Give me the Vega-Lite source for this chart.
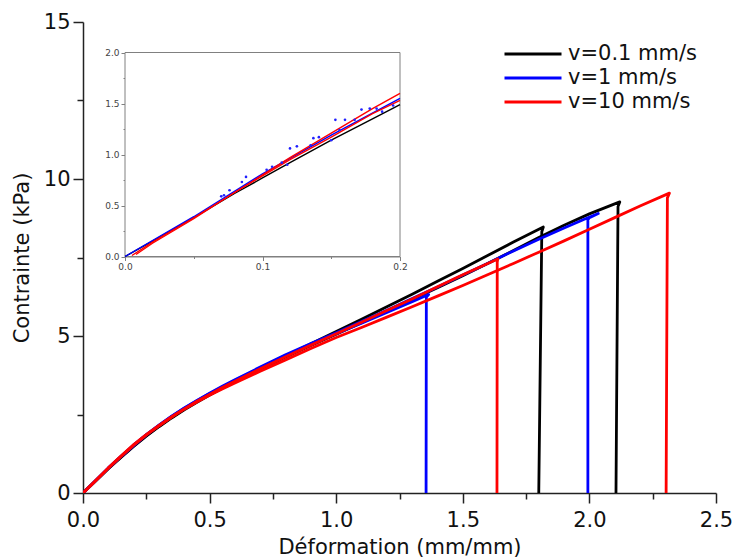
{
  "$schema": "https://vega.github.io/schema/vega-lite/v6.json",
  "width": 633,
  "height": 471,
  "autosize": "none",
  "padding": {"left": 83, "top": 22, "right": 19, "bottom": 67},
  "background": "white",
  "config": {"view": {"stroke": null}, "font": "DejaVu Sans", "axis": {"grid": false}},
  "datasets": {
    "main": [
      {"s":"k1","v":"v=0.1 mm/s","x":0,"y":0},{"s":"k1","v":"v=0.1 mm/s","x":0.05,"y":0.38},{"s":"k1","v":"v=0.1 mm/s","x":0.1,"y":0.77},{"s":"k1","v":"v=0.1 mm/s","x":0.15,"y":1.13},{"s":"k1","v":"v=0.1 mm/s","x":0.2,"y":1.48},{"s":"k1","v":"v=0.1 mm/s","x":0.25,"y":1.81},{"s":"k1","v":"v=0.1 mm/s","x":0.3,"y":2.11},{"s":"k1","v":"v=0.1 mm/s","x":0.35,"y":2.39},{"s":"k1","v":"v=0.1 mm/s","x":0.4,"y":2.65},{"s":"k1","v":"v=0.1 mm/s","x":0.45,"y":2.89},{"s":"k1","v":"v=0.1 mm/s","x":0.5,"y":3.12},{"s":"k1","v":"v=0.1 mm/s","x":0.55,"y":3.34},{"s":"k1","v":"v=0.1 mm/s","x":0.6,"y":3.55},{"s":"k1","v":"v=0.1 mm/s","x":0.7,"y":3.96},{"s":"k1","v":"v=0.1 mm/s","x":0.8,"y":4.36},{"s":"k1","v":"v=0.1 mm/s","x":0.9,"y":4.75},{"s":"k1","v":"v=0.1 mm/s","x":1.0,"y":5.14},{"s":"k1","v":"v=0.1 mm/s","x":1.1,"y":5.53},{"s":"k1","v":"v=0.1 mm/s","x":1.2,"y":5.93},{"s":"k1","v":"v=0.1 mm/s","x":1.3,"y":6.33},{"s":"k1","v":"v=0.1 mm/s","x":1.4,"y":6.74},{"s":"k1","v":"v=0.1 mm/s","x":1.5,"y":7.15},{"s":"k1","v":"v=0.1 mm/s","x":1.6,"y":7.57},{"s":"k1","v":"v=0.1 mm/s","x":1.7,"y":7.99},{"s":"k1","v":"v=0.1 mm/s","x":1.818,"y":8.47},{"s":"k1","v":"v=0.1 mm/s","x":1.812,"y":8.32},{"s":"k1","v":"v=0.1 mm/s","x":1.8,"y":0},
      {"s":"k2","v":"v=0.1 mm/s","x":0,"y":0},{"s":"k2","v":"v=0.1 mm/s","x":0.05,"y":0.39},{"s":"k2","v":"v=0.1 mm/s","x":0.1,"y":0.78},{"s":"k2","v":"v=0.1 mm/s","x":0.15,"y":1.15},{"s":"k2","v":"v=0.1 mm/s","x":0.2,"y":1.5},{"s":"k2","v":"v=0.1 mm/s","x":0.25,"y":1.83},{"s":"k2","v":"v=0.1 mm/s","x":0.3,"y":2.13},{"s":"k2","v":"v=0.1 mm/s","x":0.35,"y":2.41},{"s":"k2","v":"v=0.1 mm/s","x":0.4,"y":2.67},{"s":"k2","v":"v=0.1 mm/s","x":0.45,"y":2.91},{"s":"k2","v":"v=0.1 mm/s","x":0.5,"y":3.13},{"s":"k2","v":"v=0.1 mm/s","x":0.55,"y":3.34},{"s":"k2","v":"v=0.1 mm/s","x":0.6,"y":3.55},{"s":"k2","v":"v=0.1 mm/s","x":0.7,"y":3.95},{"s":"k2","v":"v=0.1 mm/s","x":0.8,"y":4.33},{"s":"k2","v":"v=0.1 mm/s","x":0.9,"y":4.7},{"s":"k2","v":"v=0.1 mm/s","x":1.0,"y":5.06},{"s":"k2","v":"v=0.1 mm/s","x":1.1,"y":5.42},{"s":"k2","v":"v=0.1 mm/s","x":1.2,"y":5.79},{"s":"k2","v":"v=0.1 mm/s","x":1.3,"y":6.16},{"s":"k2","v":"v=0.1 mm/s","x":1.4,"y":6.54},{"s":"k2","v":"v=0.1 mm/s","x":1.5,"y":6.92},{"s":"k2","v":"v=0.1 mm/s","x":1.6,"y":7.32},{"s":"k2","v":"v=0.1 mm/s","x":1.7,"y":7.72},{"s":"k2","v":"v=0.1 mm/s","x":1.8,"y":8.14},{"s":"k2","v":"v=0.1 mm/s","x":1.9,"y":8.53},{"s":"k2","v":"v=0.1 mm/s","x":2.0,"y":8.89},{"s":"k2","v":"v=0.1 mm/s","x":2.12,"y":9.27},{"s":"k2","v":"v=0.1 mm/s","x":2.113,"y":9.12},{"s":"k2","v":"v=0.1 mm/s","x":2.105,"y":0},
      {"s":"b1","v":"v=1 mm/s","x":0,"y":0},{"s":"b1","v":"v=1 mm/s","x":0.05,"y":0.39},{"s":"b1","v":"v=1 mm/s","x":0.1,"y":0.79},{"s":"b1","v":"v=1 mm/s","x":0.15,"y":1.16},{"s":"b1","v":"v=1 mm/s","x":0.2,"y":1.51},{"s":"b1","v":"v=1 mm/s","x":0.25,"y":1.85},{"s":"b1","v":"v=1 mm/s","x":0.3,"y":2.15},{"s":"b1","v":"v=1 mm/s","x":0.35,"y":2.44},{"s":"b1","v":"v=1 mm/s","x":0.4,"y":2.7},{"s":"b1","v":"v=1 mm/s","x":0.45,"y":2.94},{"s":"b1","v":"v=1 mm/s","x":0.5,"y":3.17},{"s":"b1","v":"v=1 mm/s","x":0.55,"y":3.38},{"s":"b1","v":"v=1 mm/s","x":0.6,"y":3.59},{"s":"b1","v":"v=1 mm/s","x":0.7,"y":3.99},{"s":"b1","v":"v=1 mm/s","x":0.8,"y":4.38},{"s":"b1","v":"v=1 mm/s","x":0.9,"y":4.73},{"s":"b1","v":"v=1 mm/s","x":1.0,"y":5.07},{"s":"b1","v":"v=1 mm/s","x":1.1,"y":5.41},{"s":"b1","v":"v=1 mm/s","x":1.2,"y":5.75},{"s":"b1","v":"v=1 mm/s","x":1.3,"y":6.09},{"s":"b1","v":"v=1 mm/s","x":1.365,"y":6.32},{"s":"b1","v":"v=1 mm/s","x":1.356,"y":6.24},{"s":"b1","v":"v=1 mm/s","x":1.355,"y":0},
      {"s":"b2","v":"v=1 mm/s","x":0,"y":0},{"s":"b2","v":"v=1 mm/s","x":0.05,"y":0.4},{"s":"b2","v":"v=1 mm/s","x":0.1,"y":0.8},{"s":"b2","v":"v=1 mm/s","x":0.15,"y":1.17},{"s":"b2","v":"v=1 mm/s","x":0.2,"y":1.53},{"s":"b2","v":"v=1 mm/s","x":0.25,"y":1.86},{"s":"b2","v":"v=1 mm/s","x":0.3,"y":2.16},{"s":"b2","v":"v=1 mm/s","x":0.35,"y":2.45},{"s":"b2","v":"v=1 mm/s","x":0.4,"y":2.71},{"s":"b2","v":"v=1 mm/s","x":0.45,"y":2.95},{"s":"b2","v":"v=1 mm/s","x":0.5,"y":3.18},{"s":"b2","v":"v=1 mm/s","x":0.55,"y":3.4},{"s":"b2","v":"v=1 mm/s","x":0.6,"y":3.61},{"s":"b2","v":"v=1 mm/s","x":0.7,"y":4.01},{"s":"b2","v":"v=1 mm/s","x":0.8,"y":4.4},{"s":"b2","v":"v=1 mm/s","x":0.9,"y":4.76},{"s":"b2","v":"v=1 mm/s","x":1.0,"y":5.1},{"s":"b2","v":"v=1 mm/s","x":1.1,"y":5.46},{"s":"b2","v":"v=1 mm/s","x":1.2,"y":5.82},{"s":"b2","v":"v=1 mm/s","x":1.3,"y":6.19},{"s":"b2","v":"v=1 mm/s","x":1.4,"y":6.56},{"s":"b2","v":"v=1 mm/s","x":1.5,"y":6.94},{"s":"b2","v":"v=1 mm/s","x":1.6,"y":7.32},{"s":"b2","v":"v=1 mm/s","x":1.7,"y":7.71},{"s":"b2","v":"v=1 mm/s","x":1.8,"y":8.08},{"s":"b2","v":"v=1 mm/s","x":1.9,"y":8.44},{"s":"b2","v":"v=1 mm/s","x":1.98,"y":8.72},{"s":"b2","v":"v=1 mm/s","x":2.035,"y":8.9},{"s":"b2","v":"v=1 mm/s","x":2.0,"y":8.77},{"s":"b2","v":"v=1 mm/s","x":1.994,"y":8.7},{"s":"b2","v":"v=1 mm/s","x":1.994,"y":0},
      {"s":"r1","v":"v=10 mm/s","x":0,"y":0},{"s":"r1","v":"v=10 mm/s","x":0.05,"y":0.39},{"s":"r1","v":"v=10 mm/s","x":0.1,"y":0.79},{"s":"r1","v":"v=10 mm/s","x":0.15,"y":1.16},{"s":"r1","v":"v=10 mm/s","x":0.2,"y":1.52},{"s":"r1","v":"v=10 mm/s","x":0.25,"y":1.85},{"s":"r1","v":"v=10 mm/s","x":0.3,"y":2.14},{"s":"r1","v":"v=10 mm/s","x":0.35,"y":2.42},{"s":"r1","v":"v=10 mm/s","x":0.4,"y":2.68},{"s":"r1","v":"v=10 mm/s","x":0.45,"y":2.92},{"s":"r1","v":"v=10 mm/s","x":0.5,"y":3.14},{"s":"r1","v":"v=10 mm/s","x":0.55,"y":3.36},{"s":"r1","v":"v=10 mm/s","x":0.6,"y":3.56},{"s":"r1","v":"v=10 mm/s","x":0.7,"y":3.96},{"s":"r1","v":"v=10 mm/s","x":0.8,"y":4.34},{"s":"r1","v":"v=10 mm/s","x":0.9,"y":4.71},{"s":"r1","v":"v=10 mm/s","x":1.0,"y":5.07},{"s":"r1","v":"v=10 mm/s","x":1.1,"y":5.44},{"s":"r1","v":"v=10 mm/s","x":1.2,"y":5.81},{"s":"r1","v":"v=10 mm/s","x":1.3,"y":6.18},{"s":"r1","v":"v=10 mm/s","x":1.4,"y":6.57},{"s":"r1","v":"v=10 mm/s","x":1.5,"y":6.95},{"s":"r1","v":"v=10 mm/s","x":1.638,"y":7.45},{"s":"r1","v":"v=10 mm/s","x":1.636,"y":7.35},{"s":"r1","v":"v=10 mm/s","x":1.635,"y":0},
      {"s":"r2","v":"v=10 mm/s","x":0,"y":0},{"s":"r2","v":"v=10 mm/s","x":0.05,"y":0.4},{"s":"r2","v":"v=10 mm/s","x":0.1,"y":0.8},{"s":"r2","v":"v=10 mm/s","x":0.15,"y":1.18},{"s":"r2","v":"v=10 mm/s","x":0.2,"y":1.54},{"s":"r2","v":"v=10 mm/s","x":0.25,"y":1.86},{"s":"r2","v":"v=10 mm/s","x":0.3,"y":2.15},{"s":"r2","v":"v=10 mm/s","x":0.35,"y":2.42},{"s":"r2","v":"v=10 mm/s","x":0.4,"y":2.67},{"s":"r2","v":"v=10 mm/s","x":0.45,"y":2.9},{"s":"r2","v":"v=10 mm/s","x":0.5,"y":3.11},{"s":"r2","v":"v=10 mm/s","x":0.55,"y":3.31},{"s":"r2","v":"v=10 mm/s","x":0.6,"y":3.5},{"s":"r2","v":"v=10 mm/s","x":0.7,"y":3.88},{"s":"r2","v":"v=10 mm/s","x":0.8,"y":4.24},{"s":"r2","v":"v=10 mm/s","x":0.9,"y":4.6},{"s":"r2","v":"v=10 mm/s","x":1.0,"y":4.95},{"s":"r2","v":"v=10 mm/s","x":1.1,"y":5.27},{"s":"r2","v":"v=10 mm/s","x":1.2,"y":5.6},{"s":"r2","v":"v=10 mm/s","x":1.3,"y":5.93},{"s":"r2","v":"v=10 mm/s","x":1.4,"y":6.27},{"s":"r2","v":"v=10 mm/s","x":1.5,"y":6.61},{"s":"r2","v":"v=10 mm/s","x":1.6,"y":6.96},{"s":"r2","v":"v=10 mm/s","x":1.7,"y":7.31},{"s":"r2","v":"v=10 mm/s","x":1.8,"y":7.67},{"s":"r2","v":"v=10 mm/s","x":1.9,"y":8.03},{"s":"r2","v":"v=10 mm/s","x":2.0,"y":8.4},{"s":"r2","v":"v=10 mm/s","x":2.1,"y":8.77},{"s":"r2","v":"v=10 mm/s","x":2.2,"y":9.14},{"s":"r2","v":"v=10 mm/s","x":2.316,"y":9.55},{"s":"r2","v":"v=10 mm/s","x":2.308,"y":9.4},{"s":"r2","v":"v=10 mm/s","x":2.303,"y":0}
    ],
    "inset": [
      {"s":"k","c":"k","x":0,"y":0},{"s":"k","c":"k","x":0.02,"y":0.15},{"s":"k","c":"k","x":0.05,"y":0.38},{"s":"k","c":"k","x":0.08,"y":0.62},{"s":"k","c":"k","x":0.1,"y":0.77},{"s":"k","c":"k","x":0.12,"y":0.92},{"s":"k","c":"k","x":0.15,"y":1.14},{"s":"k","c":"k","x":0.18,"y":1.35},{"s":"k","c":"k","x":0.2,"y":1.49},
      {"s":"b","c":"b","x":0,"y":0},{"s":"b","c":"b","x":0.05,"y":0.39},{"s":"b","c":"b","x":0.1,"y":0.81},{"s":"b","c":"b","x":0.15,"y":1.19},{"s":"b","c":"b","x":0.2,"y":1.55},
      {"s":"ra","c":"r","x":0.005,"y":0.01},{"s":"ra","c":"r","x":0.02,"y":0.14},{"s":"ra","c":"r","x":0.05,"y":0.38},{"s":"ra","c":"r","x":0.08,"y":0.63},{"s":"ra","c":"r","x":0.1,"y":0.79},{"s":"ra","c":"r","x":0.12,"y":0.95},{"s":"ra","c":"r","x":0.15,"y":1.17},{"s":"ra","c":"r","x":0.18,"y":1.4},{"s":"ra","c":"r","x":0.2,"y":1.53},
      {"s":"rb","c":"r","x":0.008,"y":0.02},{"s":"rb","c":"r","x":0.02,"y":0.13},{"s":"rb","c":"r","x":0.05,"y":0.37},{"s":"rb","c":"r","x":0.08,"y":0.63},{"s":"rb","c":"r","x":0.1,"y":0.8},{"s":"rb","c":"r","x":0.12,"y":0.97},{"s":"rb","c":"r","x":0.15,"y":1.21},{"s":"rb","c":"r","x":0.18,"y":1.45},{"s":"rb","c":"r","x":0.2,"y":1.6}
    ],
    "dots": [
      {"x":0.07,"y":0.59},{"x":0.072,"y":0.6},{"x":0.076,"y":0.65},{"x":0.085,"y":0.73},{"x":0.088,"y":0.78},{"x":0.103,"y":0.85},{"x":0.107,"y":0.88},{"x":0.114,"y":0.92},{"x":0.118,"y":0.9},{"x":0.12,"y":1.06},{"x":0.125,"y":1.08},{"x":0.135,"y":1.09},{"x":0.137,"y":1.16},{"x":0.141,"y":1.17},{"x":0.15,"y":1.14},{"x":0.153,"y":1.34},{"x":0.156,"y":1.24},{"x":0.16,"y":1.34},{"x":0.167,"y":1.34},{"x":0.172,"y":1.44},{"x":0.178,"y":1.45},{"x":0.183,"y":1.45},{"x":0.187,"y":1.42},{"x":0.195,"y":1.48}
    ]
  },
  "layer": [
    {
      "data": {"name": "main"},
      "transform": [{"window": [{"op": "row_number", "as": "i"}]}],
      "mark": {"type": "line", "strokeWidth": 2.8, "clip": true, "strokeJoin": "round"},
      "encoding": {
        "x": {"field": "x", "type": "quantitative",
          "scale": {"domain": [0, 2.5], "nice": false, "zero": false},
          "axis": {"title": "Déformation (mm/mm)", "orient": "bottom",
            "values": [0, 0.25, 0.5, 0.75, 1, 1.25, 1.5, 1.75, 2, 2.25, 2.5],
            "labelExpr": "abs(datum.value*2 - round(datum.value*2)) < 0.01 ? format(datum.value, '.1f') : ''",
            "tickSize": {"condition": {"test": "abs(datum.value*2 - round(datum.value*2)) < 0.01", "value": 10}, "value": 6},
            "labelFlush": false, "labelOverlap": false, "labelBound": false,
            "labelFontSize": 21, "labelColor": "#111", "labelPadding": 6,
            "titleFontSize": 21, "titleFontWeight": "normal", "titleColor": "#111", "titlePadding": 6,
            "domainColor": "#222", "domainWidth": 1.5, "tickColor": "#222", "tickWidth": 1.5, "grid": false}},
        "y": {"field": "y", "type": "quantitative",
          "scale": {"domain": [0, 15], "nice": false, "zero": false},
          "axis": {"title": "Contrainte (kPa)", "orient": "left",
            "values": [0, 2.5, 5, 7.5, 10, 12.5, 15],
            "labelExpr": "abs(datum.value/5 - round(datum.value/5)) < 0.01 ? format(datum.value, 'd') : ''",
            "tickSize": {"condition": {"test": "abs(datum.value/5 - round(datum.value/5)) < 0.01", "value": 10}, "value": 6},
            "labelFlush": false, "labelOverlap": false, "labelBound": false,
            "labelFontSize": 21, "labelColor": "#111", "labelPadding": 3,
            "titleFontSize": 21, "titleFontWeight": "normal", "titleColor": "#111", "titlePadding": 11,
            "domainColor": "#222", "domainWidth": 1.5, "tickColor": "#222", "tickWidth": 1.5, "grid": false}},
        "color": {"field": "v", "type": "nominal",
          "scale": {"domain": ["v=0.1 mm/s", "v=1 mm/s", "v=10 mm/s"], "range": ["#000000", "#0000ff", "#ff0000"]},
          "legend": {"orient": "none", "legendX": 439, "legendY": 21, "title": null,
            "symbolType": "M-3,0L3,0", "symbolSize": 361, "symbolStrokeWidth": 3,
            "labelFontSize": 21, "labelColor": "#111", "labelOffset": 24, "rowPadding": 3, "padding": 0}},
        "detail": {"field": "s"},
        "order": {"field": "i", "type": "quantitative"}
      }
    },
    {
      "layer": [
        {
          "data": {"values": [{}]},
          "mark": {"type": "rect", "fill": "white", "stroke": "#808080", "strokeWidth": 1},
          "encoding": {
            "x": {"datum": 0, "type": "quantitative",
              "scale": {"domain": [0, 0.2], "range": [42, 317], "nice": false, "zero": false},
              "axis": {"title": null, "orient": "bottom", "offset": -236.5,
                "values": [0, 0.05, 0.1, 0.15, 0.2],
                "labelExpr": "abs(datum.value*10 - round(datum.value*10)) < 0.01 ? format(datum.value, '.1f') : ''",
                "tickSize": {"condition": {"test": "abs(datum.value*10 - round(datum.value*10)) < 0.01", "value": 4}, "value": 2},
                "labelFlush": false, "labelOverlap": false, "labelBound": false,
                "labelFontSize": 9, "labelColor": "#444", "labelPadding": 2,
                "domainColor": "#808080", "domainWidth": 1, "tickColor": "#808080", "tickWidth": 1, "grid": false}},
            "x2": {"datum": 0.2},
            "y": {"datum": 0, "type": "quantitative",
              "scale": {"domain": [0, 2], "range": [234.5, 30.5], "nice": false, "zero": false},
              "axis": {"title": null, "orient": "left", "offset": -42,
                "values": [0, 0.25, 0.5, 0.75, 1, 1.25, 1.5, 1.75, 2],
                "labelExpr": "abs(datum.value*2 - round(datum.value*2)) < 0.01 ? format(datum.value, '.1f') : ''",
                "tickSize": {"condition": {"test": "abs(datum.value*2 - round(datum.value*2)) < 0.01", "value": 4}, "value": 2},
                "labelFlush": false, "labelOverlap": false, "labelBound": false,
                "labelFontSize": 9, "labelColor": "#444", "labelPadding": 2,
                "domainColor": "#808080", "domainWidth": 1, "tickColor": "#808080", "tickWidth": 1, "grid": false}},
            "y2": {"datum": 2}
          }
        },
        {
          "data": {"name": "inset"},
          "mark": {"type": "line", "strokeWidth": 1.4},
          "encoding": {
            "x": {"field": "x", "type": "quantitative", "title": null},
            "y": {"field": "y", "type": "quantitative", "title": null},
            "color": {"field": "c", "type": "nominal",
              "scale": {"domain": ["k", "b", "r"], "range": ["#000000", "#0000ff", "#ff0000"]}, "legend": null},
            "detail": {"field": "s"}
          }
        },
        {
          "data": {"name": "dots"},
          "mark": {"type": "point", "filled": true, "size": 7, "color": "#2020ff", "opacity": 1},
          "encoding": {
            "x": {"field": "x", "type": "quantitative", "title": null},
            "y": {"field": "y", "type": "quantitative", "title": null}
          }
        }
      ]
    }
  ],
  "resolve": {
    "scale": {"x": "independent", "y": "independent", "color": "independent"},
    "axis": {"x": "independent", "y": "independent"}
  }
}
